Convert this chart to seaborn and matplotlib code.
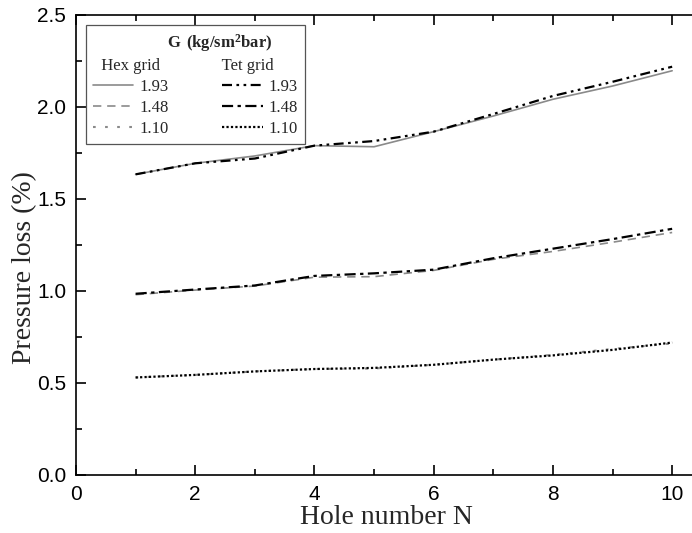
import matplotlib
matplotlib.use("Agg")
import matplotlib.pyplot as plt
from matplotlib.ticker import MultipleLocator, FormatStrFormatter
import seaborn as sns
import pandas as pd

# Hole positions along the channel
holes = [1, 2, 3, 4, 5, 6, 7, 8, 9, 10]

# Pressure loss (%) for the hexahedral grid
hex_193 = [1.634, 1.694, 1.734, 1.790, 1.784, 1.866, 1.951, 2.042, 2.114, 2.197]
hex_148 = [0.980, 1.005, 1.027, 1.075, 1.078, 1.112, 1.172, 1.215, 1.265, 1.318]
hex_110 = [0.530, 0.544, 0.563, 0.576, 0.579, 0.599, 0.627, 0.653, 0.685, 0.715]

# Pressure loss (%) for the tetrahedral grid
tet_193 = [1.634, 1.694, 1.720, 1.790, 1.815, 1.866, 1.962, 2.060, 2.137, 2.219]
tet_148 = [0.985, 1.008, 1.030, 1.082, 1.096, 1.116, 1.178, 1.230, 1.282, 1.338]
tet_110 = [0.530, 0.544, 0.563, 0.576, 0.582, 0.599, 0.627, 0.650, 0.680, 0.720]

mass_flux_labels = ["1.93", "1.48", "1.10"]

sns.set_theme(style="ticks")
plt.rcParams["font.family"] = ["Liberation Serif", "DejaVu Serif"]
plt.rcParams["mathtext.fontset"] = "custom"
plt.rcParams["mathtext.rm"] = "Liberation Serif"
plt.rcParams["mathtext.bf"] = "Liberation Serif:bold"

fig = plt.figure(figsize=(6.92, 5.33), dpi=100)
fig.patch.set_facecolor("white")
ax = fig.add_axes([76 / 692, 58 / 533, 620 / 692, 460 / 533])
ax.set_facecolor("white")

gray = "#8a8a8a"
series = [
    (hex_193, gray, "-", 1.2),
    (hex_148, gray, (0, (5, 3.5)), 1.2),
    (hex_110, gray, (0, (1.3, 4.5)), 1.5),
    (tet_193, "black", (0, (4.5, 2, 1.2, 2, 1.2, 2)), 1.6),
    (tet_148, "black", (0, (5, 2, 1.5, 2)), 1.6),
    (tet_110, "black", (0, (1.0, 1.0)), 1.6),
]
labels = mass_flux_labels + mass_flux_labels

for (vals, col, ls, lw), lab in zip(series, labels):
    df = pd.DataFrame({"N": holes, "loss": vals})
    sns.lineplot(data=df, x="N", y="loss", ax=ax, color=col, linestyle=ls,
                 linewidth=lw, label=lab, legend=False)

ax.set_xlim(0, 10.4)
ax.set_ylim(0, 2.5)
ax.xaxis.set_major_locator(MultipleLocator(2))
ax.xaxis.set_minor_locator(MultipleLocator(1))
ax.yaxis.set_major_locator(MultipleLocator(0.5))
ax.yaxis.set_minor_locator(MultipleLocator(0.25))
ax.yaxis.set_major_formatter(FormatStrFormatter("%.1f"))

for side in ["left", "bottom", "top", "right"]:
    ax.spines[side].set_visible(True)
    ax.spines[side].set_linewidth(1.2)
    ax.spines[side].set_color("black")

ax.tick_params(axis="both", which="major", direction="in", length=7, width=1.2,
               colors="black", top=True, right=False, labelsize=15, pad=7,
               labelfontfamily="Liberation Sans")
ax.tick_params(axis="both", which="minor", direction="in", length=4, width=1.2,
               colors="black", top=True, right=False)

ax.set_xlabel("Hole number N", fontsize=20, labelpad=1)
ax.set_ylabel("Pressure loss (%)", fontsize=20)
ax.yaxis.set_label_coords(-0.062, 0.45)

handles = ax.get_lines()[:6]
sp = " "
title = sp * 18 + r"$\mathbf{G\ (kg/sm^2bar)}$" + "\n" + sp * 2 + "Hex grid" + sp * 15 + "Tet grid"
leg = ax.legend(handles, labels, ncol=2, loc="upper left",
                bbox_to_anchor=(0.016, 0.978), borderaxespad=0,
                title=title, fontsize=12, title_fontsize=12,
                frameon=True, fancybox=False, framealpha=1,
                edgecolor="#555555", handlelength=2.45, handletextpad=0.35,
                columnspacing=3.2, labelspacing=0.3, borderpad=0.4,
                alignment="left")
leg.get_frame().set_linewidth(0.9)
leg.get_title().set_multialignment("left")
leg.get_title().set_linespacing(1.35)

fig.savefig("out.png", dpi=100, facecolor="white")
